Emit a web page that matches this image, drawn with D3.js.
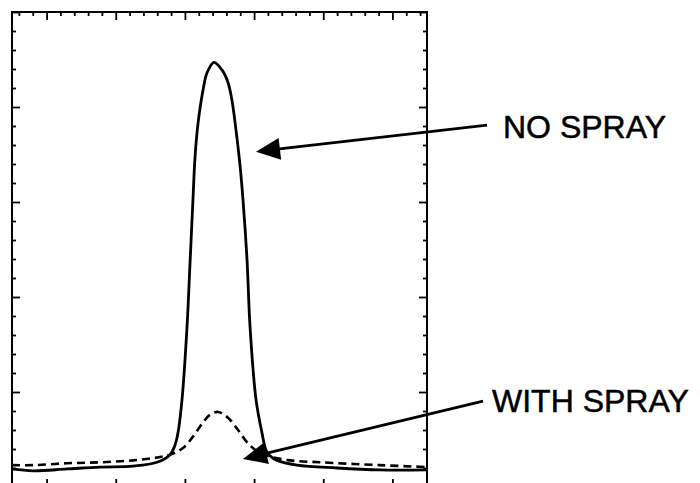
<!DOCTYPE html>
<html>
<head>
<meta charset="utf-8">
<script src="https://cdn.jsdelivr.net/npm/d3@7/dist/d3.min.js"></script>
<style>
  body { margin: 0; background: #fff; }
  svg { display: block; }
  .label { font-family: "Liberation Sans", Arial, sans-serif; font-size: 32px; fill: #000; stroke: #000; stroke-width: 0.5px; }
</style>
</head>
<body>
<svg width="700" height="483"></svg>
<script>
// curve samples (x in arbitrary units, y in arbitrary units)
var noSprayX = [-2.5, -0.98, 1.48, 3.86, 6.25, 7.98, 8.92, 9.28, 9.5, 9.79, 10.15, 10.37, 10.58, 10.73, 10.95, 11.31, 11.6, 12.1,
                12.68, 13.11, 13.4, 13.69, 13.98, 14.2, 14.49, 14.71, 15.14, 15.57, 15.86, 16.15, 16.66, 18.1, 20.99, 24.1, 27.5];
var noSprayY = [0.19, 0.17, 0.19, 0.21, 0.22, 0.26, 0.34, 0.44, 0.57, 0.92, 1.68, 2.36, 3.02, 3.47, 3.83, 4.18, 4.36, 4.47,
                4.39, 4.26, 4.07, 3.76, 3.39, 3.02, 2.39, 1.68, 0.92, 0.57, 0.39, 0.33, 0.28, 0.23, 0.2, 0.18, 0.18];

var withSprayX = [-2.5, -0.98, 1.48, 3.86, 6.25, 7.98, 8.92, 9.86, 10.58, 11.31, 11.81, 12.39, 13.11, 13.84, 14.56,
                  15.28, 16.15, 17.6, 19.77, 24.1, 27.5];
var withSprayY = [0.23, 0.23, 0.25, 0.26, 0.28, 0.31, 0.34, 0.41, 0.53, 0.68, 0.76, 0.79, 0.73, 0.6, 0.46,
                  0.37, 0.32, 0.28, 0.26, 0.23, 0.21];

// annotation arrows: tip and tail in data units
var labels = ["NO SPRAY", "WITH SPRAY"];
var arrowTip = [[15.14, 3.53], [14.2, 0.295]];
var arrowTail = [[31.84, 3.81], [31.55, 0.905]];

var xMajor = [0, 5, 10, 15, 20, 25];
var yMajor = [0, 1, 2, 3, 4, 5];

var svg = d3.select("svg");
var mLeft = 12, mRight = 427, mTop = 12, mBottom = 487;

var x = d3.scaleLinear().domain([-2.5, 27.5]).range([mLeft, mRight]);
var y = d3.scaleLinear().domain([0, 5]).range([mBottom, mTop]);

var xMinor = d3.range(-2, 28, 1).filter(function(v) { return xMajor.indexOf(v) < 0; });
var yMinor = d3.range(0, 5.01, 0.2).map(function(v) { return Math.round(v * 10) / 10; })
  .filter(function(v) { return yMajor.indexOf(v) < 0; });

var axes = [
  [d3.axisBottom, x, "translate(0," + mTop + ")", xMajor, xMinor],
  [d3.axisTop, x, "translate(0," + mBottom + ")", xMajor, xMinor],
  [d3.axisRight, y, "translate(" + mLeft + ",0)", yMajor, yMinor],
  [d3.axisLeft, y, "translate(" + mRight + ",0)", yMajor, yMinor]
];
axes.forEach(function(a) {
  [[a[3], 8], [a[4], 4]].forEach(function(s) {
    var g = svg.append("g").attr("transform", a[2])
      .call(a[0](a[1]).tickValues(s[0]).tickSize(s[1]).tickFormat(""));
    g.select(".domain").remove();
    g.selectAll("line").attr("stroke", "#000").attr("stroke-width", 1.8);
  });
});

svg.append("rect")
  .attr("x", mLeft).attr("y", mTop)
  .attr("width", mRight - mLeft).attr("height", mBottom - mTop)
  .attr("fill", "none").attr("stroke", "#000").attr("stroke-width", 2);

var line = d3.line()
  .x(function(d) { return x(d[0]); })
  .y(function(d) { return y(d[1]); })
  .curve(d3.curveCatmullRom.alpha(0.5));

svg.append("path")
  .datum(d3.zip(noSprayX, noSprayY))
  .attr("d", line)
  .attr("fill", "none").attr("stroke", "#000").attr("stroke-width", 2.8);

svg.append("path")
  .datum(d3.zip(withSprayX, withSprayY))
  .attr("d", line)
  .attr("fill", "none").attr("stroke", "#000").attr("stroke-width", 2.6)
  .attr("stroke-dasharray", "8,5");

// arrows
arrowTip.forEach(function(t, i) {
  var tx = x(t[0]), ty = y(t[1]);
  var sx = x(arrowTail[i][0]), sy = y(arrowTail[i][1]);
  var dx = sx - tx, dy = sy - ty, len = Math.sqrt(dx * dx + dy * dy);
  var ux = dx / len, uy = dy / len, hl = 24, hw = 11;
  svg.append("line")
    .attr("x1", sx).attr("y1", sy).attr("x2", tx + ux * hl * 0.8).attr("y2", ty + uy * hl * 0.8)
    .attr("stroke", "#000").attr("stroke-width", 2.8);
  svg.append("path")
    .attr("d", "M" + tx + "," + ty +
      "L" + (tx + ux * hl - uy * hw) + "," + (ty + uy * hl + ux * hw) +
      "L" + (tx + ux * hl + uy * hw) + "," + (ty + uy * hl - ux * hw) + "Z")
    .attr("fill", "#000");
});

svg.append("text").attr("class", "label").attr("x", 503).attr("y", 138).text(labels[0]);
svg.append("text").attr("class", "label").attr("x", 492).attr("y", 412).text(labels[1]);
</script>
</body>
</html>
